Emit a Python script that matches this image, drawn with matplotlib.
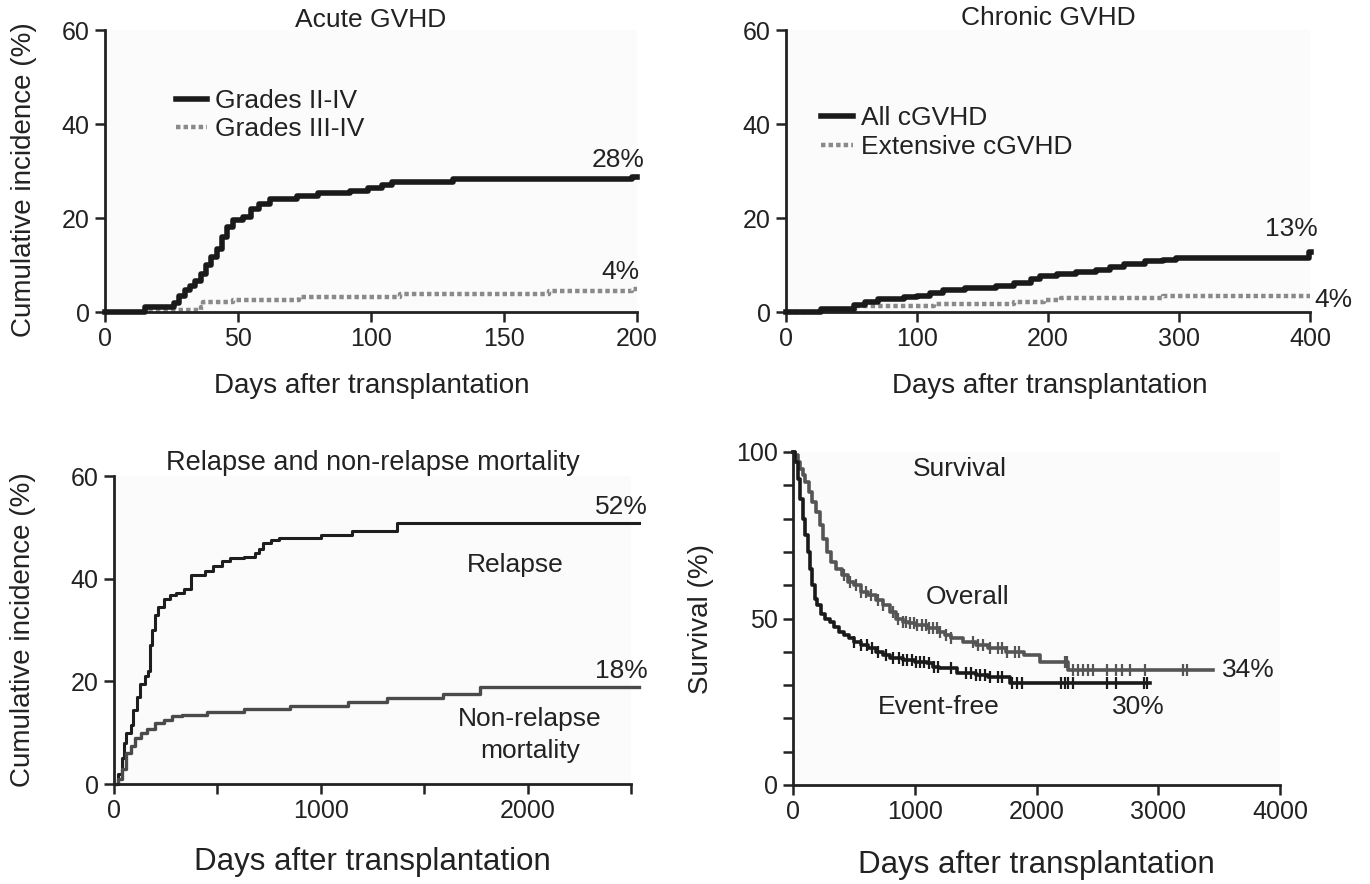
import numpy as np
import matplotlib
matplotlib.use('Agg')
import matplotlib.pyplot as plt
from matplotlib.ticker import MultipleLocator, FixedLocator

plt.rcParams['font.family'] = ['Liberation Sans', 'DejaVu Sans']
TXT = '#222222'

# ---- Acute GVHD (days, cumulative incidence %) ----
agvhd_t = [0, 15, 25, 26, 28, 30, 32, 34, 36, 38, 40, 42, 44, 46, 48, 52, 55, 58, 62, 72,
           80, 92, 99, 104, 108, 131, 198, 200]
agvhd_24 = [0, 1, 1, 2, 3.5, 4.6, 5.5, 6.5, 8, 10, 11.7, 13.5, 16, 18, 19.5, 20.3, 22, 23, 24, 24.6,
            25.3, 25.8, 26.3, 27, 27.7, 28.2, 28.8, 28.8]
agvhd34_t = [0, 15, 36, 37, 48, 73, 111, 167, 198, 200]
agvhd_34 = [0, 0.5, 1, 2.1, 2.6, 3.2, 3.9, 4.4, 5, 5]

# ---- Chronic GVHD ----
cgvhd_t = [0, 27, 52, 60, 70, 90, 100, 110, 120, 137, 160, 174, 187, 194, 207, 221, 237, 247,
           258, 274, 288, 298, 399, 401]
cgvhd_all = [0, 0.6, 1.4, 2.1, 2.8, 3.2, 3.5, 4, 4.6, 5.2, 5.6, 6.2, 7.1, 7.6, 8, 8.5, 9, 9.6,
             10.3, 10.9, 11.1, 11.4, 12.8, 12.8]
cgvhd_ext_t = [0, 28, 53, 113, 174, 197, 210, 288, 400]
cgvhd_ext = [0, 0.4, 1.3, 1.6, 2.1, 2.5, 3.0, 3.4, 3.4]

# ---- Relapse / NRM ----
rel_t = [0, 20, 40, 50, 60, 80, 90, 110, 125, 150, 165, 175, 185, 200, 215, 240, 270, 300, 340,
         370, 440, 480, 520, 560, 630, 680, 700, 720, 760, 800, 1000, 1150, 1370, 2540]
rel_v = [0, 2, 5, 8, 10, 11.5, 14.5, 17, 19.5, 21, 22, 27, 30, 33, 34.5, 36, 36.8, 37.3, 38,
         40.8, 41.5, 42.5, 43.5, 44, 44.3, 45, 45.8, 47, 47.5, 48, 48.5, 49.3, 50.8, 50.8]
nrm_t = [0, 20, 40, 60, 80, 100, 130, 160, 200, 240, 280, 330, 450, 630, 850, 1130, 1320, 1590,
         1770, 2540]
nrm_v = [0, 1, 3, 6, 7.5, 9, 10, 10.8, 11.8, 12.5, 13.2, 13.5, 14, 14.6, 15.2, 15.9, 16.7, 17.6,
         18.9, 18.9]

# ---- Survival ----
os_t = [0, 20, 40, 60, 80, 100, 130, 160, 190, 220, 250, 280, 310, 350, 400, 450, 500, 560, 620,
        680, 740, 800, 850, 900, 950, 1000, 1100, 1200, 1250, 1300, 1400, 1500, 1600, 1750, 1900,
        2030, 2260, 3450]
os_v = [100, 99, 97, 95, 93, 91, 88, 85, 82, 78, 74, 70, 67, 65, 63, 61, 60, 58, 57,
        55.5, 54, 52, 50, 49, 48.5, 48, 47, 46, 45, 44, 43, 42, 41, 40, 39,
        37, 34.5, 34.5]
efs_t = [0, 20, 40, 60, 80, 100, 120, 140, 160, 180, 200, 230, 260, 300, 340, 380, 420, 460, 500,
         560, 620, 680, 740, 800, 900, 1000, 1100, 1150, 1200, 1350, 1500, 1600, 1780, 2930]
efs_v = [100, 97, 92, 86, 80, 75, 70, 65, 60, 56, 54, 51.5, 50, 49, 47.5, 46, 45, 44, 43,
         42, 41, 40, 39, 38, 37.5, 37, 36.5, 35.5, 35, 33.5, 33, 32.5, 30.5, 30.5]
os_cens = [420, 470, 520, 560, 600, 640, 700, 740, 820, 860, 900, 930, 960, 990, 1020, 1060,
           1090, 1120, 1150, 1180, 1210, 1260, 1300, 1480, 1520, 1560, 1620, 1680, 1720, 1760,
           1820, 1860, 2230, 2250, 2300, 2340, 2380, 2420, 2460, 2580, 2650, 2700, 2770, 2890,
           3200, 3240]
efs_cens = [500, 560, 610, 650, 700, 760, 820, 870, 900, 940, 980, 1010, 1040, 1080, 1120, 1160,
            1190, 1300, 1420, 1460, 1500, 1540, 1580, 1620, 1680, 1720, 1800, 1840, 1880, 2200,
            2230, 2260, 2300, 2580, 2650, 2880, 2910]


def style(ax, labelsize=18):
    for s in ['top', 'right']:
        ax.spines[s].set_visible(False)
    for s in ['left', 'bottom']:
        ax.spines[s].set_linewidth(2)
        ax.spines[s].set_color(TXT)
    ax.set_facecolor('#fbfbfb')
    ax.tick_params(which='both', direction='out', length=7, width=1.8, colors=TXT,
                   labelsize=labelsize, pad=4)


def step_at(t, v, c):
    idx = np.searchsorted(t, c, side='right') - 1
    return np.asarray(v)[idx]


fig = plt.figure(figsize=(13.7, 8.84), dpi=100)
W, H = 1370, 884

# Panel 1: acute GVHD
ax1 = fig.add_axes([105 / W, 1 - 312 / H, 532 / W, 282 / H])
style(ax1)
ax1.plot(agvhd_t, agvhd_24, drawstyle='steps-post', color='#1a1a1a', lw=4, label='Grades II-IV',
         clip_on=False, zorder=3)
ax1.plot(agvhd34_t, agvhd_34, drawstyle='steps-post', color='#8a8a8a', lw=3.2,
         linestyle=(0, (1, 0.7)), label='Grades III-IV', clip_on=False)
ax1.set_xlim(0, 200)
ax1.set_ylim(0, 60)
ax1.set_xticks([0, 50, 100, 150, 200])
ax1.set_yticks([0, 20, 40, 60])
ax1.set_title('Acute GVHD', fontsize=19, color=TXT, pad=2, y=1.0)
ax1.set_xlabel('Days after transplantation', fontsize=20, color=TXT)
ax1.xaxis.set_label_coords(0.502, -0.215)
ax1.set_ylabel('Cumulative incidence (%)', fontsize=20, color=TXT)
ax1.yaxis.set_label_coords(-0.128, 0.47)
ax1.legend(loc='upper left', bbox_to_anchor=(0.088, 0.874), frameon=False, fontsize=19,
           handlelength=1.2, handletextpad=0.3, labelspacing=0.15, labelcolor=TXT)
ax1.text(203, 29.8, '28%', fontsize=19, color=TXT, ha='right', va='bottom')
ax1.text(201, 6.0, '4%', fontsize=19, color=TXT, ha='right', va='bottom')

# Panel 2: chronic GVHD
ax2 = fig.add_axes([786 / W, 1 - 312 / H, 524 / W, 282 / H])
style(ax2)
ax2.plot(cgvhd_t, cgvhd_all, drawstyle='steps-post', color='#1a1a1a', lw=4, label='All cGVHD',
         clip_on=False, zorder=3)
ax2.plot(cgvhd_ext_t, cgvhd_ext, drawstyle='steps-post', color='#8a8a8a', lw=3.2,
         linestyle=(0, (1, 0.7)), label='Extensive cGVHD', clip_on=False)
ax2.set_xlim(0, 400)
ax2.set_ylim(0, 60)
ax2.set_xticks([0, 100, 200, 300, 400])
ax2.set_yticks([0, 20, 40, 60])
ax2.set_title('Chronic GVHD', fontsize=19, color=TXT, pad=2)
ax2.set_xlabel('Days after transplantation', fontsize=20, color=TXT)
ax2.xaxis.set_label_coords(0.504, -0.215)
ax2.legend(loc='upper left', bbox_to_anchor=(0.022, 0.814), frameon=False, fontsize=19,
           handlelength=1.2, handletextpad=0.3, labelspacing=0.2, labelcolor=TXT)
ax2.text(406, 15.2, '13%', fontsize=19, color=TXT, ha='right', va='bottom')
ax2.text(403, 2.6, '4%', fontsize=19, color=TXT, ha='left', va='center')

# Panel 3: relapse and NRM
ax3 = fig.add_axes([114 / W, 1 - 784 / H, 517 / W, 308 / H])
style(ax3)
ax3.plot(rel_t, rel_v, drawstyle='steps-post', color='#1e1e1e', lw=2.2, clip_on=False)
ax3.plot(nrm_t, nrm_v, drawstyle='steps-post', color='#4a4a4a', lw=2.4, clip_on=False)
ax3.set_xlim(0, 2500)
ax3.set_ylim(0, 60)
ax3.xaxis.set_major_locator(FixedLocator([0, 1000, 2000]))
ax3.xaxis.set_minor_locator(FixedLocator([500, 1500, 2500]))
ax3.set_yticks([0, 20, 40, 60])
ax3.set_title('Relapse and non-relapse mortality', fontsize=19.5, color=TXT, pad=2)
ax3.set_xlabel('Days after transplantation', fontsize=22.5, color=TXT)
ax3.xaxis.set_label_coords(0.5, -0.206)
ax3.set_ylabel('Cumulative incidence (%)', fontsize=20, color=TXT)
ax3.yaxis.set_label_coords(-0.151, 0.5)
ax3.text(2580, 51.6, '52%', fontsize=19, color=TXT, ha='right', va='bottom')
ax3.text(1940, 42.7, 'Relapse', fontsize=19, color=TXT, ha='center', va='center')
ax3.text(2580, 19.6, '18%', fontsize=19, color=TXT, ha='right', va='bottom')
ax3.text(2010, 9.5, 'Non-relapse\nmortality', fontsize=19, color=TXT, ha='center', va='center',
         linespacing=1.4)

# Panel 4: survival
ax4 = fig.add_axes([793 / W, 1 - 785 / H, 487 / W, 333 / H])
style(ax4)
ax4.plot(os_t, os_v, drawstyle='steps-post', color='#555555', lw=2.6, clip_on=False)
ax4.plot(efs_t, efs_v, drawstyle='steps-post', color='#1a1a1a', lw=2.6, clip_on=False)
ax4.plot(os_cens, step_at(os_t, os_v, os_cens), linestyle='none', marker='|', markersize=9,
         mew=1.6, color='#555555')
ax4.plot(efs_cens, step_at(efs_t, efs_v, efs_cens), linestyle='none', marker='|', markersize=9,
         mew=1.6, color='#1a1a1a')
ax4.set_xlim(0, 4000)
ax4.set_ylim(0, 100)
ax4.set_xticks([0, 1000, 2000, 3000, 4000])
ax4.set_yticks([0, 50, 100])
ax4.yaxis.set_minor_locator(MultipleLocator(10))
ax4.text(1370, 95, 'Survival', fontsize=19, color=TXT, ha='center', va='center')
ax4.set_xlabel('Days after transplantation', fontsize=22.5, color=TXT)
ax4.xaxis.set_label_coords(0.5, -0.195)
ax4.set_ylabel('Survival (%)', fontsize=20, color=TXT)
ax4.yaxis.set_label_coords(-0.162, 0.5)
ax4.text(1430, 56.5, 'Overall', fontsize=19, color=TXT, ha='center', va='center')
ax4.text(3520, 34.5, '34%', fontsize=19, color=TXT, ha='left', va='center')
ax4.text(1200, 23.5, 'Event-free', fontsize=19, color=TXT, ha='center', va='center')
ax4.text(2840, 23.5, '30%', fontsize=19, color=TXT, ha='center', va='center')

fig.savefig('out.png', dpi=100, facecolor='white')
